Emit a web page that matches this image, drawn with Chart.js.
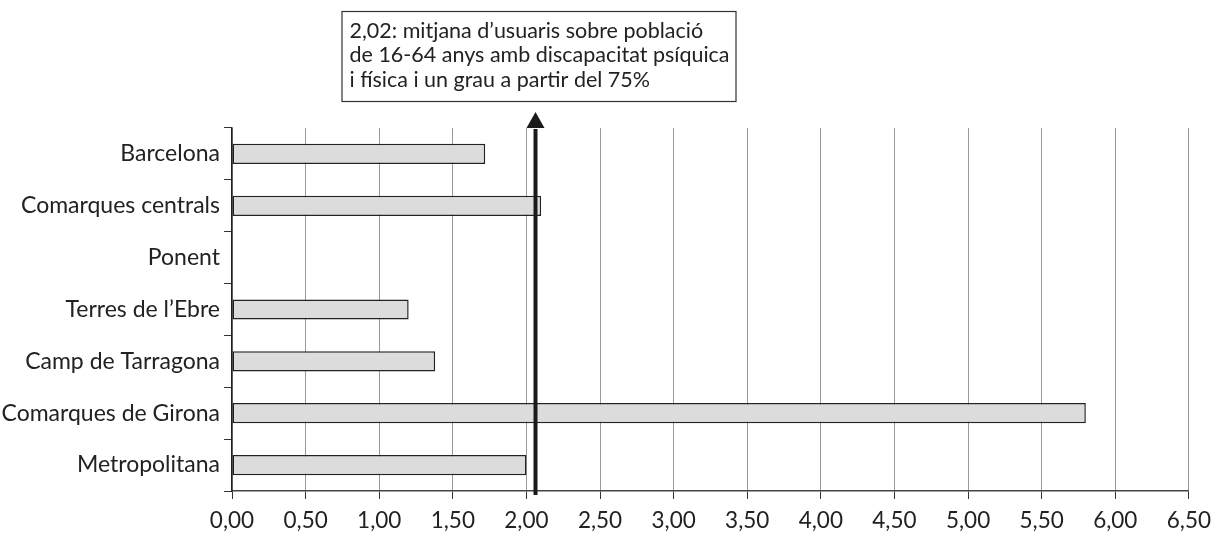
<!DOCTYPE html>
<html>
<head>
<meta charset="utf-8">
<script src="https://cdn.jsdelivr.net/npm/chart.js@4.4.1/dist/chart.umd.min.js"></script>
<style>
  html, body { margin: 0; padding: 0; background: #ffffff; }
  #wrap { width: 1219px; height: 533px; position: relative; }
</style>
</head>
<body>
<div id="wrap"><canvas id="c" width="1219" height="533"></canvas></div>
<script>
const categories = ["Barcelona", "Comarques centrals", "Ponent", "Terres de l\u2019Ebre", "Camp de Tarragona", "Comarques de Girona", "Metropolitana"];
const values = [1.72, 2.10, null, 1.20, 1.38, 5.80, 2.00];
const referenceValue = 2.06;
const referenceLabel = ["2,02: mitjana d\u2019usuaris sobre poblaci\u00f3", "de 16-64 anys amb discapacitat ps\u00edquica", "i f\u00edsica i un grau a partir del 75%"];
const xMin = 0, xMax = 6.5, xStep = 0.5;

const FONT = "Lato, 'Open Sans', sans-serif";

const annotationPlugin = {
  id: 'refArrow',
  afterDatasetsDraw(chart) {
    const ctx = chart.ctx;
    const xs = chart.scales.x;
    const area = chart.chartArea;
    const px = Math.round(xs.getPixelForValue(referenceValue)) + 0.5;
    const tipY = 112, baseY = 128;
    ctx.save();
    ctx.strokeStyle = '#1a1a1a';
    ctx.lineWidth = 4;
    ctx.beginPath();
    ctx.moveTo(px, area.bottom + 4);
    ctx.lineTo(px, baseY + 1);
    ctx.stroke();
    ctx.fillStyle = '#1a1a1a';
    ctx.beginPath();
    ctx.moveTo(px, tipY);
    ctx.lineTo(px - 9, baseY);
    ctx.lineTo(px + 9, baseY);
    ctx.closePath();
    ctx.fill();
    // box
    const bx = px - 194, by = 11, bw = 394, bh = 90;
    ctx.fillStyle = '#ffffff';
    ctx.fillRect(bx, by, bw, bh);
    ctx.strokeStyle = '#333333';
    ctx.lineWidth = 1.2;
    ctx.strokeRect(bx + 0.5, by + 0.5, bw, bh);
    ctx.fillStyle = '#222222';
    ctx.font = "21.5px " + FONT;
    ctx.textAlign = 'left';
    ctx.textBaseline = 'middle';
    referenceLabel.forEach((t, i) => ctx.fillText(t, bx + 8, by + 20 + i * 24.5));
    ctx.restore();
  }
};

new Chart(document.getElementById('c'), {
  type: 'bar',
  data: {
    labels: categories,
    datasets: [{
      data: values,
      backgroundColor: '#dcdcdd',
      borderColor: '#222222',
      borderWidth: 1.5,
      borderSkipped: false,
      barPercentage: 0.39,
      categoryPercentage: 1.0
    }]
  },
  options: {
    indexAxis: 'y',
    responsive: false,
    animation: false,
    devicePixelRatio: 1,
    layout: { padding: { top: 128, right: 29, left: 0, bottom: 0 } },
    plugins: { legend: { display: false }, tooltip: { enabled: false } },
    scales: {
      x: {
        min: xMin, max: xMax,
        ticks: {
          stepSize: xStep,
          color: '#222222',
          font: { family: FONT, size: 22.5 },
          padding: 8,
          callback: (v) => v.toFixed(2).replace('.', ',')
        },
        grid: { color: '#999999', lineWidth: 1, tickColor: '#333333', tickLength: 8 },
        border: { color: '#444444', width: 1.5 },
        afterFit(s) { s.height = 42; }
      },
      y: {
        ticks: { color: '#222222', font: { family: FONT, size: 23 }, padding: 4 },
        grid: { drawOnChartArea: false, offset: true, tickColor: '#333333', tickLength: 8 },
        border: { color: '#222222', width: 1.5 },
        afterFit(s) { s.width = 232; }
      }
    }
  },
  plugins: [annotationPlugin]
});
</script>
</body>
</html>
